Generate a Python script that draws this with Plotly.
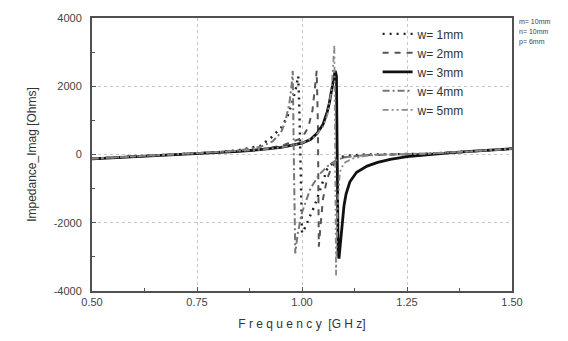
import plotly.graph_objects as go

# ---------------- data ----------------
f_w3 = [0.50, 0.55, 0.60, 0.65, 0.70, 0.75, 0.80, 0.85, 0.90, 0.95, 1.00, 1.02, 1.036,
        1.05, 1.06, 1.065, 1.07, 1.075, 1.079, 1.082, 1.084, 1.086, 1.088, 1.091, 1.095,
        1.10, 1.105, 1.114, 1.13, 1.155, 1.18, 1.21, 1.25, 1.30, 1.35, 1.40, 1.45, 1.50]
z_w3 = [-130, -100, -70, -40, -10, 20, 50, 90, 140, 210, 330, 440, 620,
        880, 1250, 1500, 1850, 2200, 2450, 2300, 0, -2900, -3050, -2600, -2000,
        -1500, -1150, -800, -520, -340, -230, -140, -60, 0, 50, 90, 130, 170]

f_w1 = [0.50, 0.60, 0.70, 0.80, 0.85, 0.90, 0.926, 0.95, 0.965, 0.975, 0.985, 0.991,
        0.994, 0.997, 1.000, 1.005, 1.012, 1.02, 1.03, 1.04, 1.05, 1.06, 1.08, 1.10,
        1.15, 1.20, 1.30, 1.40, 1.50]
z_w1 = [-120, -60, 0, 70, 130, 250, 490, 780, 1100, 1450, 1900, 2300,
        1200, -1200, -2300, -2200, -2000, -1800, -1500, -1150, -750, -420, -150, -40,
        0, 10, 20, 90, 170]

f_w2 = [0.50, 0.60, 0.70, 0.80, 0.90, 0.95, 1.00, 1.015, 1.025, 1.031, 1.035, 1.038,
        1.040, 1.044, 1.05, 1.06, 1.07, 1.08, 1.10, 1.15, 1.20, 1.30, 1.40, 1.50]
z_w2 = [-120, -60, 0, 60, 150, 250, 480, 800, 1300, 1900, 2450, 800,
        -2700, -2100, -1300, -700, -400, -220, -80, -20, 0, 20, 90, 170]

f_w4 = [0.50, 0.60, 0.70, 0.80, 0.85, 0.90, 0.93, 0.95, 0.96, 0.97, 0.975, 0.978,
        0.981, 0.984, 0.99, 1.00, 1.02, 1.04, 1.06, 1.08, 1.10, 1.15, 1.20, 1.30,
        1.40, 1.50]
z_w4 = [-120, -60, 0, 70, 120, 220, 380, 650, 950, 1500, 2000, 2450,
        -500, -2900, -2300, -1700, -1000, -600, -350, -180, -80, -20, 0, 30,
        90, 170]

f_w5 = [0.50, 0.60, 0.70, 0.80, 0.90, 0.95, 1.00, 1.03, 1.05, 1.06, 1.07, 1.074,
        1.077, 1.079, 1.081, 1.085, 1.09, 1.10, 1.12, 1.15, 1.20, 1.30, 1.40, 1.50]
z_w5 = [-120, -60, 0, 60, 140, 210, 330, 520, 820, 1150, 1850, 2600,
        3200, 0, -3550, -1500, -520, -250, -120, -40, 0, 20, 90, 170]

series_names = ["w= 1mm", "w= 2mm", "w= 3mm", "w= 4mm", "w= 5mm"]
x_ticks = [0.50, 0.75, 1.00, 1.25, 1.50]
x_tick_text = ["0.50", "0.75", "1.00", "1.25", "1.50"]
y_ticks = [-4000, -2000, 0, 2000, 4000]
y_tick_text = ["-4000", "-2000", "0", "2000", "4000"]
side_notes = ["m= 10mm", "n= 10mm", "p= 6mm"]

# ---------------- figure ----------------
FONT = "Liberation Sans, Arial, sans-serif"
fig = go.Figure()

styles = [
    (f_w1, z_w1, dict(color="#222222", width=2.4, dash="2px,5px")),
    (f_w2, z_w2, dict(color="#555555", width=2.0, dash="6px,6px")),
    (f_w3, z_w3, dict(color="#111111", width=2.8, dash="solid")),
    (f_w4, z_w4, dict(color="#777777", width=2.0, dash="7px,3px,2px,3px")),
    (f_w5, z_w5, dict(color="#8a8a8a", width=1.8, dash="6px,3px,2px,3px,2px,3px")),
]
for name, (fx, zy, ln) in zip(series_names, styles):
    fig.add_trace(go.Scatter(x=fx, y=zy, mode="lines", name=name, line=ln))

axis_common = dict(
    showline=True, linecolor="#505050", linewidth=2, mirror=True,
    ticks="inside", ticklen=4, tickcolor="#555555",
    showgrid=True, gridcolor="#c8c8c8", griddash="dot", gridwidth=1,
    zeroline=False,
    tickfont=dict(family=FONT, size=11, color="#444444"),
)

fig.update_xaxes(
    range=[0.5, 1.5], tickvals=x_ticks, ticktext=x_tick_text,
    minor=dict(ticks="inside", ticklen=3, tickcolor="#555555", dtick=0.125, showgrid=False),
    title=dict(text="F r e q u e n c y  [G H z]", font=dict(family=FONT, size=12, color="#333333"),
               standoff=12),
    **axis_common,
)
fig.update_yaxes(
    range=[-4000, 4000], tickvals=y_ticks, ticktext=y_tick_text,
    minor=dict(ticks="inside", ticklen=3, tickcolor="#555555", dtick=1000, showgrid=False),
    ticklabelstandoff=6,
    title=dict(text="Impedance_Imag [Ohms]", font=dict(family=FONT, size=12, color="#333333"),
               standoff=14),
    **axis_common,
)

for i, txt in enumerate(side_notes):
    fig.add_annotation(
        text=txt, xref="paper", yref="paper", x=1.012, y=0.986 - i * 0.037,
        xanchor="left", yanchor="middle", showarrow=False,
        font=dict(family=FONT, size=7, color="#444444"),
    )

fig.update_layout(
    width=568, height=341,
    margin=dict(l=92, r=56, t=17, b=47),
    paper_bgcolor="white", plot_bgcolor="white",
    showlegend=True,
    legend=dict(
        x=0.68, y=0.995, xanchor="left", yanchor="top",
        bgcolor="rgba(0,0,0,0)", borderwidth=0,
        font=dict(family=FONT, size=12, color="#333333"),
        itemwidth=30, tracegroupgap=0,
    ),
)

fig.write_html("out.html")
